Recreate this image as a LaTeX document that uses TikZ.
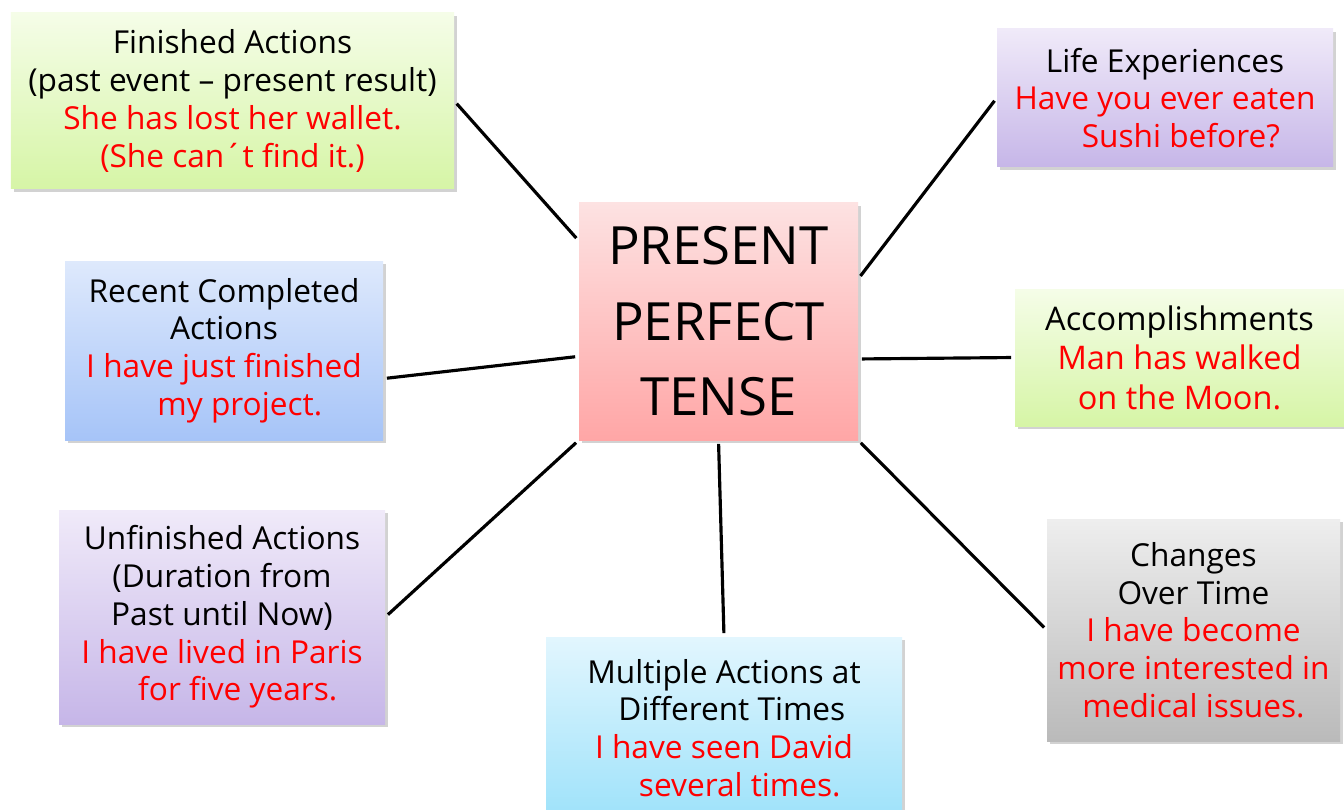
\documentclass[tikz,border=0pt]{standalone}
\usepackage{fontspec}
\setmainfont{Open Sans}
\usetikzlibrary{positioning,shadows,calc}
\definecolor{greentop}{RGB}{245,253,232}
\definecolor{greenbot}{RGB}{214,245,166}
\definecolor{pinktop}{RGB}{253,226,226}
\definecolor{pinkbot}{RGB}{255,166,166}
\definecolor{lilactop}{RGB}{240,234,249}
\definecolor{lilacbot}{RGB}{198,182,232}
\definecolor{bluetop}{RGB}{222,233,252}
\definecolor{bluebot}{RGB}{166,196,248}
\definecolor{cyantop}{RGB}{226,246,254}
\definecolor{cyanbot}{RGB}{158,226,250}
\definecolor{greytop}{RGB}{238,238,238}
\definecolor{greybot}{RGB}{186,186,186}
\newcommand{\ex}[1]{\textcolor{red}{#1}}

\begin{document}
\begin{tikzpicture}[
  every node/.style={font=\fontsize{18}{21.5}\selectfont},
  box/.style={align=center, inner sep=2pt, drop shadow={opacity=0.35, shadow xshift=1.5pt, shadow yshift=-1.5pt}},
  conn/.style={line width=1.8pt, shorten <=2pt, shorten >=2pt}
]
  \useasboundingbox[fill=white] (0,0) rectangle (26.88,-16.2);

  \node[box, top color=pinktop, bottom color=pinkbot, minimum width=5.58cm, minimum height=4.74cm,
        font=\fontsize{30}{43}\selectfont] (ptense) at (14.37,-6.43) {PRESENT\\PERFECT\\TENSE};

  \node[box, top color=greentop, bottom color=greenbot, minimum width=8.86cm, minimum height=3.52cm] (finished) at (4.65,-2.02)
       {Finished Actions\\(past event – present result)\\\ex{She has lost her wallet.}\\\ex{(She can´t find it.)}};
  \node[box, top color=lilactop, bottom color=lilacbot, minimum width=6.72cm, minimum height=2.76cm] (life) at (23.3,-1.96)
       {Life Experiences\\\ex{Have you ever eaten}\\\hspace*{1em}\ex{Sushi before?}};
  \node[box, top color=bluetop, bottom color=bluebot, minimum width=6.36cm, minimum height=3.58cm] (recent) at (4.48,-7.01)
       {Recent Completed\\Actions\\\ex{I have just finished}\\\hspace*{1em}\ex{my project.}};
  \node[box, top color=greentop, bottom color=greenbot, minimum width=6.58cm, minimum height=2.74cm,
        font=\fontsize{18.5}{22.5}\selectfont] (accomp) at (23.59,-7.15)
       {Accomplishments\\\ex{Man has walked}\\\ex{on the Moon.}};
  \node[box, top color=lilactop, bottom color=lilacbot, minimum width=6.52cm, minimum height=4.28cm] (unfinished) at (4.44,-12.34)
       {Unfinished Actions\\(Duration from\\Past until Now)\\\ex{I have lived in Paris}\\\hspace*{1em}\ex{for five years.}};
  \node[box, top color=cyantop, bottom color=cyanbot, minimum width=7.12cm, minimum height=3.64cm] (multiple) at (14.48,-14.56)
       {Multiple Actions at\\\hspace*{0.5em}Different Times\\\ex{I have seen David}\\\hspace*{1em}\ex{several times.}};
  \node[box, top color=greytop, bottom color=greybot, minimum width=5.86cm, minimum height=4.44cm] (changes) at (23.87,-12.6)
       {Changes\\Over Time\\\ex{I have become}\\\ex{more interested in}\\\ex{medical issues.}};

  \draw[conn] (finished.east) -- (ptense.150);
  \draw[conn] (life.west) -- (ptense.17);
  \draw[conn] (recent.-10) -- (ptense.194);
  \draw[conn] (ptense.-15) -- (accomp.west);
  \draw[conn] (unfinished.east) -- (ptense.south west);
  \draw[conn] (ptense.south) -- (multiple.north);
  \draw[conn] (ptense.south east) -- (changes.west);
\end{tikzpicture}
\end{document}
